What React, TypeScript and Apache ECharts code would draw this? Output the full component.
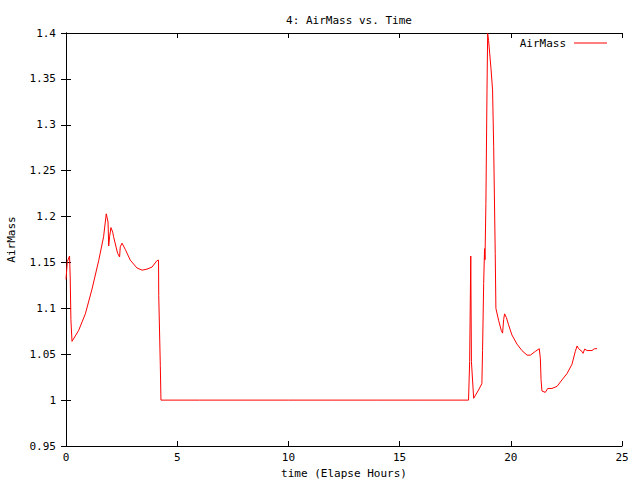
import React, { useEffect, useRef } from "react";
import * as echarts from "echarts";

const titleText = "4: AirMass vs. Time";
const xAxisName = "time (Elapse Hours)";
const yAxisName = "AirMass";
const seriesName = "AirMass";

const hours = [
  0, 0.06, 0.16, 0.19, 0.22, 0.27, 0.57, 0.87, 1.17, 1.47, 1.69, 1.81, 1.89, 1.92, 1.96, 2.02, 2.1, 2.14,
  2.32, 2.41, 2.44, 2.52, 2.67, 2.89, 3.19, 3.42, 3.64, 3.87, 4.09, 4.16, 4.17, 4.24, 4.27,
  6, 8, 10, 12, 14, 16, 18.1,
  18.15, 18.2, 18.23, 18.33, 18.55, 18.7, 18.73, 18.78, 18.82, 18.84, 18.88, 18.93, 18.96, 19.0, 19.05,
  19.11, 19.18, 19.23, 19.3, 19.33, 19.45, 19.57, 19.63, 19.68, 19.72, 19.8, 19.9, 20.05, 20.28, 20.5,
  20.73, 20.88, 21.1, 21.28, 21.33, 21.36, 21.4, 21.55, 21.66, 21.85, 22.08, 22.3, 22.53, 22.75, 22.9,
  22.98, 23.05, 23.2, 23.25, 23.32, 23.43, 23.65, 23.76, 23.88,
];

const airMass = [
  1.1315, 1.151, 1.157, 1.133, 1.088, 1.064, 1.076, 1.094, 1.121, 1.152, 1.178, 1.203, 1.194, 1.168, 1.178, 1.188, 1.183, 1.178,
  1.16, 1.156, 1.167, 1.171, 1.164, 1.1525, 1.144, 1.1416, 1.1427, 1.145, 1.152, 1.1525, 1.114, 1.038, 1.0,
  1.0, 1.0, 1.0, 1.0, 1.0, 1.0, 1.0,
  1.042, 1.157, 1.042, 1.002, 1.011, 1.018, 1.054, 1.127, 1.165, 1.153, 1.214, 1.338, 1.3995, 1.392, 1.378,
  1.361, 1.338, 1.276, 1.16, 1.1, 1.087, 1.076, 1.073, 1.088, 1.094, 1.09, 1.082, 1.071, 1.061, 1.054,
  1.049, 1.049, 1.053, 1.056, 1.045, 1.0225, 1.01, 1.0084, 1.0127, 1.0127, 1.015, 1.022, 1.029, 1.039, 1.053,
  1.059, 1.056, 1.053, 1.051, 1.0556, 1.054, 1.054, 1.056, 1.056,
];

const FONT = "DejaVu Sans Mono";

export default function App() {
  const ref = useRef<HTMLDivElement>(null);
  useEffect(() => {
    if (!ref.current) return;
    const chart = echarts.init(ref.current, undefined, { renderer: "svg" });
    const textStyle = { fontFamily: FONT, fontSize: 11, color: "#000" };
    const data = hours.map((h, i) => [h, airMass[i]]);
    const axisLine = { show: true, lineStyle: { color: "#000", width: 1 } };
    const axisTick = { show: true, inside: true, length: 5, lineStyle: { color: "#000", width: 1 } };
    chart.setOption({
      animation: false,
      backgroundColor: "#fff",
      textStyle,
      title: {
        text: titleText,
        left: 344,
        top: 10,
        textAlign: "center",
        textStyle: { ...textStyle, fontWeight: "normal" },
      },
      grid: { left: 66, right: 18, top: 33, bottom: 34, containLabel: false, outerBoundsMode: "none" },
      xAxis: [
        {
          type: "value",
          min: 0,
          max: 25,
          interval: 5,
          name: xAxisName,
          nameLocation: "middle",
          nameGap: 20,
          nameTextStyle: textStyle,
          axisLine,
          axisTick,
          splitLine: { show: false },
          axisLabel: { ...textStyle, margin: 6 },
        },
        {
          type: "value",
          position: "top",
          min: 0,
          max: 25,
          interval: 5,
          axisLine,
          axisTick,
          splitLine: { show: false },
          axisLabel: { show: false },
        },
      ],
      yAxis: [
        {
          type: "value",
          min: 0.95,
          max: 1.4,
          interval: 0.05,
          name: yAxisName,
          nameLocation: "middle",
          nameGap: 49,
          nameRotate: 90,
          nameTextStyle: textStyle,
          axisLine,
          axisTick,
          splitLine: { show: false },
          axisLabel: {
            ...textStyle,
            margin: 10,
            formatter: (v: number) => String(parseFloat(v.toFixed(2))),
          },
        },
        {
          type: "value",
          position: "right",
          min: 0.95,
          max: 1.4,
          interval: 0.05,
          axisLine,
          axisTick,
          splitLine: { show: false },
          axisLabel: { show: false },
        },
      ],
      graphic: [
        {
          type: "text",
          x: 566,
          y: 43,
          style: {
            text: seriesName,
            font: `11px '${FONT}'`,
            fill: "#000",
            textAlign: "right",
            textVerticalAlign: "middle",
          },
        },
        {
          type: "line",
          shape: { x1: 574, y1: 43, x2: 607, y2: 43 },
          style: { stroke: "#ff0000", lineWidth: 1 },
        },
      ],
      series: [
        {
          name: seriesName,
          type: "line",
          data,
          showSymbol: false,
          symbol: "none",
          lineStyle: { color: "#ff0000", width: 1 },
          itemStyle: { color: "#ff0000" },
          clip: true,
        },
      ],
    });
    return () => chart.dispose();
  }, []);
  return <div ref={ref} style={{ width: 640, height: 480, position: "absolute", left: 0, top: 0 }} />;
}
